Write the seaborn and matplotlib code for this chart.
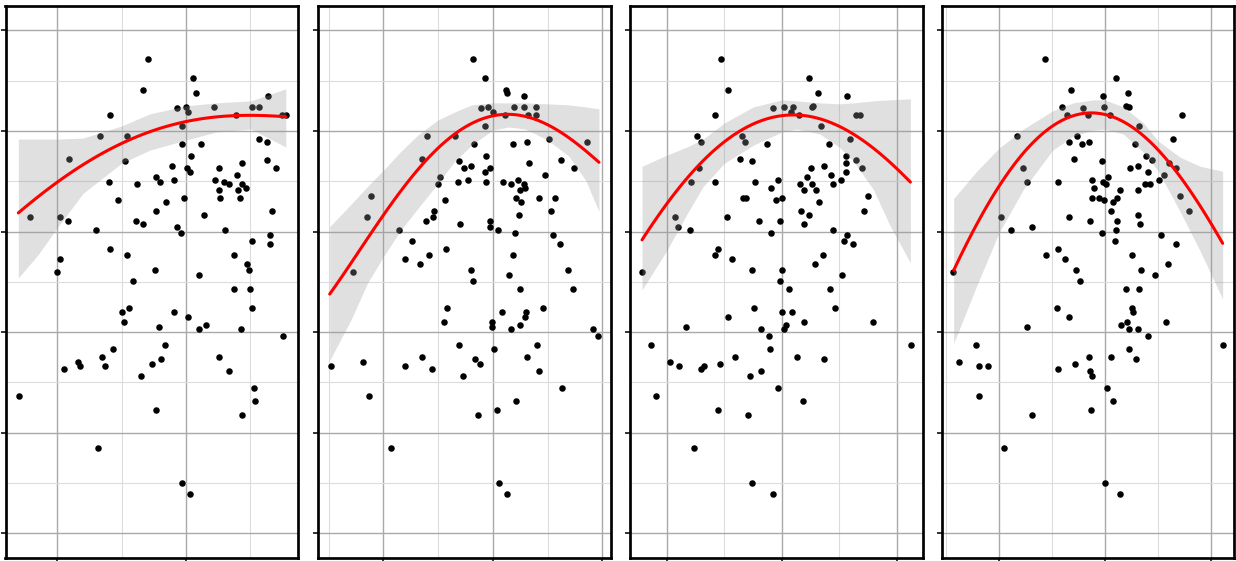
import matplotlib
matplotlib.use("Agg")
import matplotlib.pyplot as plt
from matplotlib.ticker import MultipleLocator
import seaborn as sns
import pandas as pd

# --- scatter data (shared response, four predictors) ---
x1 = [17.1, 20.6, 16.7, 20.8, 26.4, 19.3, 20.0, 20.2, 22.2, 23.9, 25.2, 25.7, 14.1, 27.5, 27.8,
      19.7, 13.3, 15.4, 25.7, 26.3, 19.7, 21.2, 10.9, 15.3, 20.4, 26.3, 18.9, 20.1, 20.3, 22.6,
      24.4, 27.0, 14.0, 16.2, 17.7, 18.0, 19.1, 22.3, 23.0, 23.4, 24.0, 24.4, 24.1, 24.7, 22.6,
      14.7, 18.5, 19.9, 22.7, 24.2, 7.9, 10.2, 10.8, 13.0, 16.1, 16.7, 17.7, 19.3, 19.6, 21.4,
      23.1, 26.7, 25.2, 26.6, 26.6, 14.1, 15.4, 10.2, 10.0, 17.6, 15.9, 21.0, 23.8, 24.8, 24.9,
      23.8, 25.0, 25.2, 15.0, 15.2, 15.6, 19.1, 20.2, 17.9, 21.0, 21.6, 24.3, 27.6, 14.3, 13.5,
      13.7, 11.6, 11.8, 10.5, 18.4, 17.4, 18.1, 16.5, 22.6, 23.4, 7.0, 17.7, 25.3, 25.4, 24.4,
      13.2, 19.7, 20.3]
y1 = [47.2, 45.3, 44.1, 43.8, 43.5, 42.3, 42.4, 41.9, 42.4, 41.6, 42.4, 42.4, 41.6, 41.6, 41.6,
      40.5, 39.5, 39.5, 39.2, 38.9, 38.7, 38.7, 37.2, 37.0, 37.5, 37.1, 36.5, 36.3, 35.9, 36.3,
      36.8, 36.3, 34.9, 34.7, 35.4, 34.9, 35.1, 35.1, 34.9, 34.7, 35.6, 34.7, 34.1, 34.3, 34.1,
      33.1, 32.9, 33.3, 33.3, 33.3, 31.5, 31.5, 31.1, 30.2, 31.1, 30.8, 32.0, 30.5, 29.9, 31.7,
      30.2, 32.0, 29.1, 29.7, 28.8, 28.3, 27.7, 27.3, 26.0, 26.2, 25.1, 25.7, 27.7, 26.8, 26.2,
      24.3, 24.3, 22.4, 22.0, 21.0, 22.4, 22.0, 21.5, 20.5, 20.3, 20.7, 20.3, 19.6, 18.3, 17.5,
      16.6, 17.0, 16.6, 16.3, 18.7, 16.8, 17.3, 15.6, 17.5, 16.1, 13.7, 12.3, 14.5, 13.2, 11.8,
      8.5, 5.0, 3.9]

x2 = [18.2, 19.3, 21.2, 21.3, 22.8, 18.9, 19.6, 20.0, 21.9, 22.8, 23.9, 23.2, 23.9, 21.1, 19.3,
      14.0, 16.5, 25.1, 28.6, 18.3, 21.8, 23.1, 13.5, 19.4, 16.9, 17.4, 18.0, 19.7, 19.3, 23.3,
      26.2, 27.4, 15.2, 15.0, 16.8, 17.7, 19.4, 20.9, 21.7, 22.3, 22.8, 22.9, 22.5, 24.8, 8.9,
      15.6, 22.1, 22.6, 24.2, 25.7, 8.5, 13.9, 14.5, 14.6, 17.0, 19.7, 19.7, 20.5, 22.4, 25.3,
      11.4, 22.0, 12.6, 25.5, 26.1, 12.0, 13.3, 14.2, 15.7, 21.8, 7.2, 18.0, 18.2, 21.5, 26.9,
      22.5, 27.3, 15.8, 15.5, 19.9, 19.9, 20.8, 21.7, 22.5, 22.9, 23.0, 24.6, 29.1, 29.6, 5.2,
      8.1, 8.7, 12.0, 13.5, 14.4, 16.9, 17.3, 18.4, 18.8, 20.1, 23.1, 24.0, 24.2, 26.3, 18.6,
      20.4, 22.1, 10.7, 20.6, 21.3]
y2 = [47.2, 45.3, 44.1, 43.8, 43.5, 42.3, 42.4, 41.9, 42.4, 42.4, 42.4, 41.6, 41.6, 41.6, 40.5,
      39.5, 39.5, 39.2, 38.9, 38.7, 38.7, 38.9, 37.2, 37.5, 37.0, 36.3, 36.5, 36.3, 35.9, 36.8,
      37.1, 36.3, 35.4, 34.7, 34.9, 35.1, 34.9, 34.9, 34.7, 35.1, 34.7, 34.3, 34.1, 35.6, 33.5,
      33.1, 33.3, 32.9, 33.3, 33.3, 31.5, 31.1, 31.5, 32.0, 30.8, 31.1, 30.5, 30.2, 31.7, 32.0,
      30.2, 29.9, 29.1, 29.7, 28.8, 27.3, 26.8, 27.7, 28.3, 27.7, 26.0, 26.2, 25.1, 25.7, 26.2,
      24.3, 24.3, 22.4, 21.0, 21.0, 20.5, 22.0, 20.3, 20.7, 21.5, 22.0, 22.4, 20.3, 19.6, 16.6,
      17.0, 13.7, 16.6, 17.5, 16.3, 18.7, 15.6, 17.3, 16.8, 18.3, 17.5, 18.7, 16.1, 14.5, 11.8,
      12.3, 13.2, 8.5, 5.0, 3.9]

x3 = [14.7, 22.4, 15.3, 23.1, 25.7, 19.2, 20.2, 21.0, 20.8, 21.5, 22.6, 22.7, 26.4, 26.8, 14.2,
      23.4, 12.6, 13.0, 16.5, 16.8, 18.7, 24.1, 25.9, 16.4, 17.4, 12.8, 12.1, 14.2, 17.7, 19.7,
      19.1, 19.5, 20.0, 16.6, 16.9, 22.5, 22.2, 21.6, 21.9, 22.6, 23.0, 23.2, 23.7, 24.3, 24.4,
      25.1, 25.6, 25.6, 25.6, 26.4, 27.0, 27.5, 27.1, 10.7, 11.0, 12.0, 15.2, 18.0, 19.8, 19.1,
      21.7, 21.9, 22.4, 24.4, 25.4, 25.7, 26.2, 7.9, 14.2, 14.5, 15.7, 17.4, 20.0, 19.8, 20.6,
      22.9, 23.6, 25.2, 24.2, 15.3, 17.6, 20.0, 20.9, 18.2, 18.9, 20.2, 20.4, 21.9, 24.6, 27.9,
      11.7, 8.6, 10.3, 11.1, 13.0, 13.2, 14.6, 15.9, 17.2, 18.2, 19.0, 21.3, 23.7, 31.2, 9.1,
      14.5, 17.1, 19.7, 21.8, 12.4, 17.4, 19.2]
y3 = [47.2, 45.3, 44.1, 43.8, 43.5, 42.3, 42.4, 42.4, 41.9, 41.6, 42.4, 42.5, 41.6, 41.6, 41.6,
      40.5, 39.5, 38.9, 39.5, 38.9, 38.7, 38.7, 39.2, 37.2, 37.0, 36.3, 34.9, 34.9, 34.9, 35.1,
      34.3, 33.1, 33.3, 33.3, 33.3, 36.3, 35.4, 34.7, 34.1, 34.7, 34.1, 32.9, 36.5, 35.6, 34.7,
      35.1, 37.5, 36.8, 35.9, 37.1, 36.3, 33.5, 32.0, 31.5, 30.5, 30.2, 31.5, 31.1, 31.1, 29.9,
      32.0, 30.8, 31.7, 30.2, 29.1, 29.7, 28.8, 26.0, 27.7, 28.3, 27.3, 26.2, 26.2, 25.1, 24.3,
      26.8, 27.7, 25.7, 24.3, 21.5, 22.4, 22.0, 22.0, 20.3, 19.6, 20.3, 20.7, 21.0, 22.4, 21.0,
      20.5, 18.7, 17.0, 16.6, 16.3, 16.6, 16.8, 17.5, 15.6, 16.1, 18.3, 17.5, 17.3, 18.7, 13.7,
      12.3, 11.8, 14.5, 13.2, 8.5, 5.0, 3.9]

x4 = [14.3, 21.0, 16.8, 22.2, 19.8, 15.9, 17.9, 19.9, 22.0, 22.3, 16.4, 18.4, 20.5, 27.3, 23.2,
      11.7, 16.6, 17.4, 17.8, 18.5, 22.8, 26.4, 17.1, 19.7, 12.3, 12.6, 15.6, 18.8, 19.0, 19.8,
      20.1, 20.3, 21.4, 20.8, 18.8, 19.4, 19.9, 21.1, 22.4, 23.1, 23.1, 23.9, 24.4, 24.1, 23.8,
      24.2, 25.1, 25.6, 26.0, 26.7, 27.1, 27.9, 10.2, 11.1, 13.1, 16.6, 18.6, 19.7, 20.6, 21.1,
      21.0, 20.9, 23.1, 23.3, 25.3, 26.7, 5.7, 14.4, 15.6, 16.2, 17.3, 17.6, 22.5, 23.4, 24.7,
      25.9, 22.0, 23.2, 15.5, 16.6, 12.6, 21.5, 22.1, 22.3, 22.5, 22.6, 23.1, 24.1, 25.8, 31.1,
      6.2, 7.8, 8.1, 9.0, 8.1, 15.6, 17.2, 18.5, 18.6, 18.8, 20.6, 22.3, 22.9, 20.2, 20.8,
      18.7, 13.1, 10.5, 20.0, 21.4]
y4 = [47.2, 45.3, 44.1, 43.8, 43.5, 42.4, 42.3, 42.4, 42.5, 42.4, 41.6, 41.6, 41.6, 41.6, 40.5,
      39.5, 38.9, 39.5, 38.7, 38.9, 38.7, 39.2, 37.2, 37.0, 36.3, 34.9, 34.9, 35.1, 34.3, 34.9,
      34.7, 35.4, 34.1, 32.9, 33.3, 33.3, 33.1, 33.3, 36.3, 36.5, 34.1, 37.5, 37.1, 35.9, 34.7,
      34.7, 35.1, 35.6, 36.8, 36.3, 33.5, 32.0, 31.5, 30.2, 30.5, 31.5, 31.1, 29.9, 32.0, 31.1,
      30.2, 29.1, 31.7, 30.8, 29.7, 28.8, 26.0, 27.7, 28.3, 27.3, 26.2, 25.1, 27.7, 26.2, 25.7,
      26.8, 24.3, 24.3, 22.4, 21.5, 20.5, 20.7, 21.0, 20.3, 22.4, 22.0, 20.3, 19.6, 21.0, 18.7,
      17.0, 18.7, 16.6, 16.6, 13.7, 16.3, 16.8, 17.5, 16.1, 15.6, 17.5, 18.3, 17.3, 14.5, 13.2,
      12.3, 11.8, 8.5, 5.0, 3.9]

# --- smoothed trend and its confidence band ---
fx1 = [6.96, 8.5, 10.0, 12.0, 15.0, 17.2, 20.0, 22.4, 25.1, 27.8]
fit1 = [31.9, 33.4, 34.9, 36.7, 38.8, 39.9, 40.9, 41.4, 41.6, 41.4]
hi1 = [39.2, 39.2, 39.2, 39.3, 40.5, 41.7, 42.5, 42.8, 43.0, 44.2]
lo1 = [25.4, 27.7, 30.4, 33.8, 36.8, 38.1, 39.1, 39.9, 40.2, 38.4]

fx2 = [5.1, 7.03, 8.56, 10.0, 11.62, 13.15, 14.99, 16.52, 18.06, 20.0, 21.42, 22.96, 25.01,
       26.94, 28.47, 29.69]
fit2 = [23.7, 26.9, 29.5, 31.7, 34.0, 36.0, 38.1, 39.8, 40.9, 41.5, 41.7, 41.5, 40.7, 39.1,
        38.0, 37.0]
hi2 = [30.5, 32.7, 34.5, 36.1, 38.0, 39.6, 41.1, 41.9, 42.6, 42.8, 42.8, 42.8, 42.7, 42.6,
       42.4, 42.2]
lo2 = [17.2, 21.2, 24.9, 27.5, 30.2, 32.3, 34.8, 37.0, 38.6, 40.1, 40.4, 40.2, 39.1, 37.5,
       35.1, 32.0]

fx3 = [7.86, 10.0, 11.74, 13.18, 15.01, 17.53, 20.01, 21.29, 23.31, 24.99, 26.21, 27.94,
       29.39, 31.16]
fit3 = [29.3, 32.4, 35.4, 37.2, 39.0, 40.6, 41.5, 41.6, 41.3, 40.4, 39.5, 38.6, 36.8, 34.9]
hi3 = [36.5, 37.6, 38.4, 39.2, 40.8, 42.4, 43.1, 43.0, 42.8, 42.7, 42.8, 43.0, 43.1, 43.2]
lo3 = [24.2, 28.1, 31.7, 34.5, 36.8, 38.6, 39.9, 40.2, 39.7, 38.4, 37.0, 34.2, 30.6, 26.9]

fx4 = [5.72, 7.89, 10.0, 12.3, 15.06, 17.01, 18.9, 19.97, 21.73, 23.62, 25.03, 27.08, 28.96,
       31.1]
fit4 = [26.0, 30.8, 34.9, 37.7, 40.2, 41.3, 41.7, 41.7, 41.3, 39.9, 38.1, 35.2, 32.2, 29.1]
hi4 = [33.3, 36.0, 38.3, 40.2, 42.0, 42.8, 43.1, 43.1, 42.4, 40.8, 39.0, 37.4, 36.5, 36.0]
lo4 = [18.9, 24.6, 29.9, 34.2, 38.1, 39.5, 40.1, 40.2, 39.7, 37.9, 36.0, 32.0, 28.1, 23.3]

panel_x = [x1, x2, x3, x4]
panel_y = [y1, y2, y3, y4]
fit_x = [fx1, fx2, fx3, fx4]
fit_y = [fit1, fit2, fit3, fit4]
band_hi = [hi1, hi2, hi3, hi4]
band_lo = [lo1, lo2, lo3, lo4]
x_limits = [(5.96, 28.75), (4.03, 30.76), (6.79, 32.23), (4.59, 32.17)]
y_limits = (-2.48, 52.45)

# --- layout (pixel edges of each panel border) ---
W, H = 1236, 561
left_px = [5.5, 318.0, 629.7, 941.7]
right_px = [298.0, 610.7, 922.7, 1234.0]
top_px, bottom_px = 5.8, 558.3

sns.set_style("white")
fig = plt.figure(figsize=(W / 100, H / 100), dpi=100)

for i in range(4):
    ax = fig.add_axes([left_px[i] / W, (H - bottom_px) / H,
                       (right_px[i] - left_px[i]) / W, (bottom_px - top_px) / H])
    pts = pd.DataFrame({"x": panel_x[i], "y": panel_y[i]})
    trend = pd.DataFrame({"x": fit_x[i], "fit": fit_y[i], "lo": band_lo[i], "hi": band_hi[i]})

    sns.scatterplot(data=pts, x="x", y="y", color="black", s=22, linewidth=0, ax=ax)
    ax.fill_between(trend["x"], trend["lo"], trend["hi"], color="0.6", alpha=0.3, linewidth=0)
    # smooth red trend through the read-off curve points
    sns.regplot(data=trend, x="x", y="fit", order=4, scatter=False, ci=None, truncate=True,
                color="red", line_kws={"linewidth": 2.2}, ax=ax)

    ax.set_xlim(*x_limits[i])
    ax.set_ylim(*y_limits)
    ax.xaxis.set_major_locator(MultipleLocator(10))
    ax.xaxis.set_minor_locator(MultipleLocator(5))
    ax.yaxis.set_major_locator(MultipleLocator(10))
    ax.yaxis.set_minor_locator(MultipleLocator(5))
    ax.set_axisbelow(True)
    ax.grid(which="major", color="#a9a9a9", linewidth=1.0)
    ax.grid(which="minor", color="#dcdcdc", linewidth=0.8)

    ax.tick_params(which="major", direction="out", length=3.8, width=1.4, color="#333333",
                   left=True, bottom=True, labelleft=False, labelbottom=False)
    ax.tick_params(which="minor", length=0)
    for sp in ax.spines.values():
        sp.set_visible(True)
        sp.set_color("black")
        sp.set_linewidth(1.95)
    ax.set_xlabel("")
    ax.set_ylabel("")

fig.savefig("out.png", dpi=100)
